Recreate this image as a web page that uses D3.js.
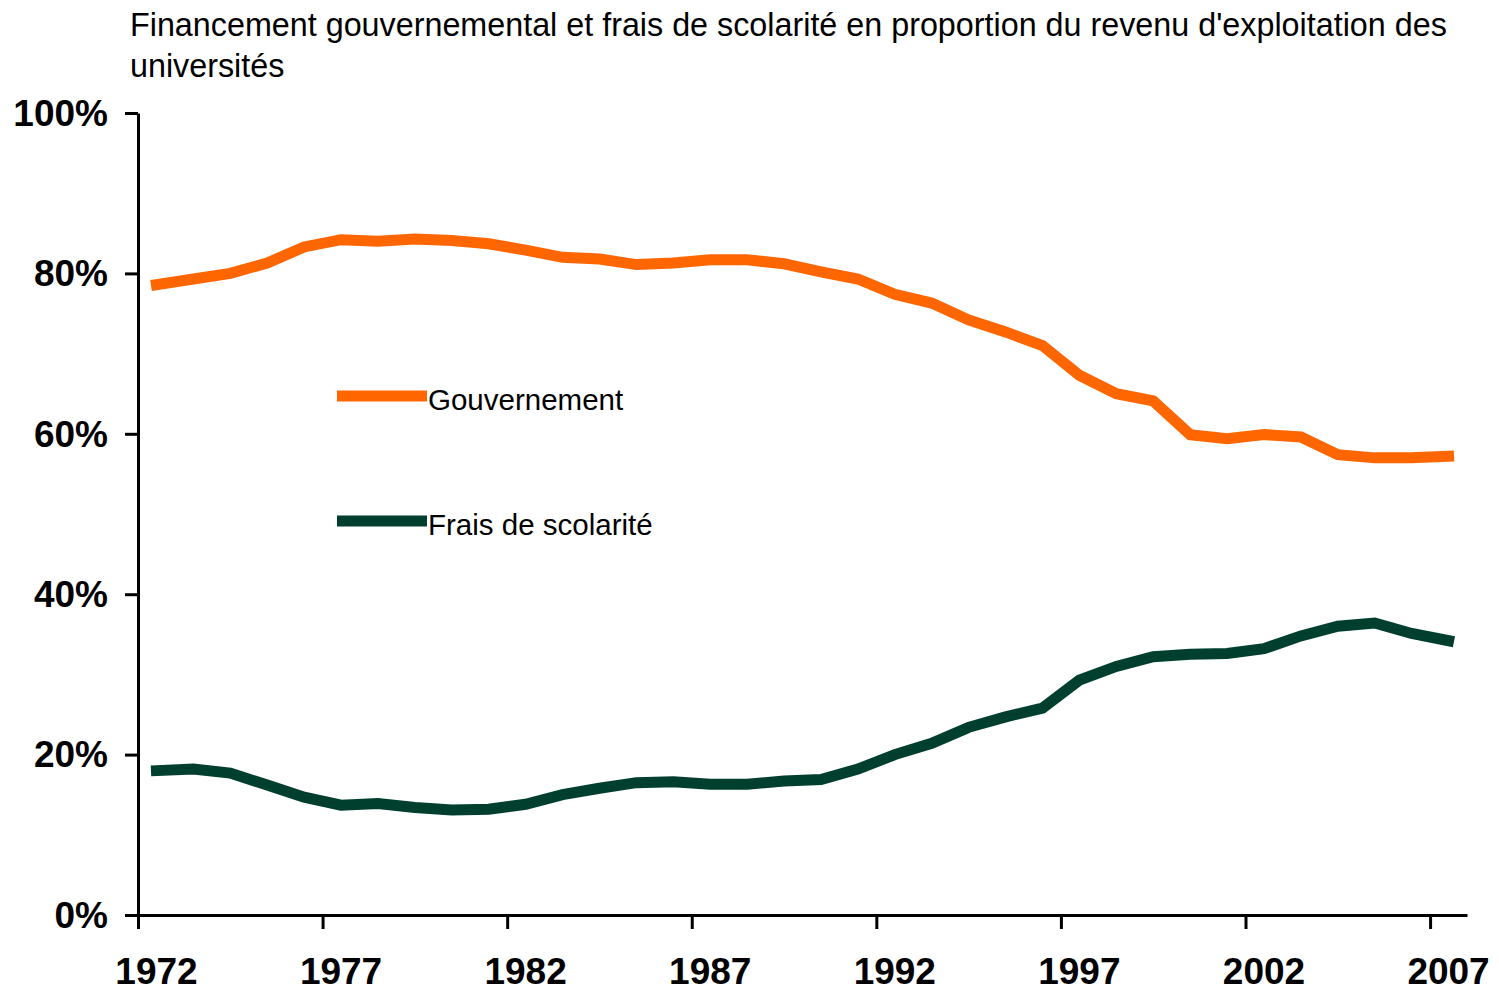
<!DOCTYPE html>
<html>
<head>
<meta charset="utf-8">
<script src="https://cdn.jsdelivr.net/npm/d3@7"></script>
<style>
  body{ margin:0; background:#fff; }
  svg{ display:block; font-family: "Liberation Sans", Arial, sans-serif; }
  .axis path, .axis line{ stroke:#000; stroke-width:3; }
  .axis text{ font-size:37px; font-weight:bold; fill:#000; }
</style>
</head>
<body>
<div id="chart"></div>
<script>
// categories
var years = [1972,1973,1974,1975,1976,1977,1978,1979,1980,1981,1982,1983,
  1984,1985,1986,1987,1988,1989,1990,1991,1992,1993,1994,1995,1996,1997,
  1998,1999,2000,2001,2002,2003,2004,2005,2006,2007];

// share of operating revenue, in %
var gouvernement = [78.6,79.3,80.0,81.3,83.3,84.2,84.0,84.3,84.1,83.7,82.9,82.0,
  81.8,81.1,81.3,81.7,81.7,81.2,80.2,79.3,77.4,76.3,74.2,72.7,71.0,67.3,
  65.0,64.1,59.9,59.4,59.9,59.6,57.4,57.0,57.0,57.2];
var fraisScolarite = [18.0,18.2,17.7,16.2,14.7,13.7,13.9,13.4,13.1,13.2,13.8,15.0,
  15.8,16.5,16.6,16.3,16.3,16.7,16.9,18.2,20.0,21.4,23.4,24.7,25.8,29.3,
  31.0,32.2,32.5,32.6,33.2,34.8,36.0,36.4,35.1,34.2];

var yTicks = [0,20,40,60,80,100];
var labelYears = [1972,1977,1982,1987,1992,1997,2002,2007];

var series = [
  {name:"Gouvernement", values:gouvernement, color:"#ff6600", legendY:396},
  {name:"Frais de scolarité", values:fraisScolarite, color:"#003f2e", legendY:521}
];

var width = 1499, height = 1002;
// plot area edges (not "top": that name is taken by window.top)
var plotLeft = 138, plotRight = 1467, plotTop = 113, plotBottom = 915;

var svg = d3.select("#chart").append("svg")
    .attr("width", width)
    .attr("height", height);

// title
var title = svg.append("text")
    .attr("x", 130)
    .attr("y", 36)
    .style("font-size", "32.3px")
    .style("fill", "#000");
title.append("tspan").attr("x", 130)
    .text("Financement gouvernemental et frais de scolarité en proportion du revenu d'exploitation des");
title.append("tspan").attr("x", 130).attr("dy", 41)
    .text("universités");

var x = d3.scaleBand()
    .domain(years)
    .range([plotLeft, plotRight])
    .padding(0);

// band edges, for the tick marks between categories
var xEdge = d3.scaleLinear()
    .domain([0, years.length])
    .range([plotLeft, plotRight]);

var y = d3.scaleLinear()
    .domain([0, 100])
    .range([plotBottom, plotTop]);

// y axis
var yAxis = svg.append("g")
    .attr("class", "axis")
    .attr("transform", "translate(" + plotLeft + ",0)")
    .call(d3.axisLeft(y)
      .tickValues(yTicks)
      .tickSize(13)
      .tickSizeOuter(0)
      .tickPadding(17)
      .tickFormat((d) => d + "%"));
yAxis.selectAll("text").attr("dy", "0.33em");

// x axis: tick marks every 5 categories
svg.append("g")
    .attr("class", "axis")
    .attr("transform", "translate(0," + plotBottom + ")")
    .call(d3.axisBottom(xEdge)
      .tickValues([0,5,10,15,20,25,30,35])
      .tickSize(14)
      .tickSizeOuter(0)
      .tickFormat(""));

// x labels at category centres
var xLabels = svg.append("g")
    .attr("class", "axis")
    .attr("transform", "translate(0," + plotBottom + ")")
    .call(d3.axisBottom(x)
      .tickValues(labelYears)
      .tickSize(0)
      .tickPadding(43));
xLabels.select(".domain").remove();

// lines
var line = d3.line()
    .x((d, i) => x(years[i]) + x.bandwidth() / 2)
    .y((d) => y(d));

svg.selectAll("path.series")
    .data(series)
    .enter()
    .append("path")
    .attr("class", "series")
    .attr("fill", "none")
    .attr("stroke", (d) => d.color)
    .attr("stroke-width", 11)
    .attr("stroke-linejoin", "miter")
    .attr("stroke-linecap", "square")
    .attr("d", (d) => line(d.values));

// legend
var legend = svg.selectAll("g.legend")
    .data(series)
    .enter()
    .append("g")
    .attr("class", "legend");

legend.append("line")
    .attr("x1", 337)
    .attr("x2", 427)
    .attr("y1", (d) => d.legendY)
    .attr("y2", (d) => d.legendY)
    .attr("stroke", (d) => d.color)
    .attr("stroke-width", 11);

legend.append("text")
    .attr("x", 428)
    .attr("y", (d) => d.legendY + 14)
    .style("font-size", "29.5px")
    .style("fill", "#000")
    .text((d) => d.name);
</script>
</body>
</html>
